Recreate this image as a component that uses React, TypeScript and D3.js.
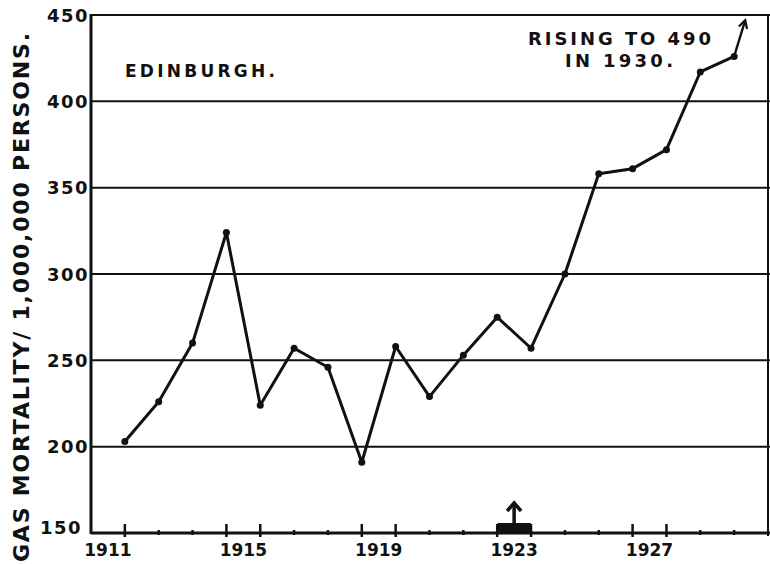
import React from "react";
import * as d3 from "d3";

const years = [1911, 1912, 1913, 1914, 1915, 1916, 1917, 1918, 1919, 1920, 1921, 1922, 1923, 1924, 1925, 1926, 1927, 1928, 1929];
const mortality = [203, 226, 260, 324, 224, 257, 246, 191, 258, 229, 253, 275, 257, 300, 358, 361, 372, 417, 426];
const yTicks = [150, 200, 250, 300, 350, 400, 450];
const xLabelYears = [1911, 1915, 1919, 1923, 1927];
const longTickYears = [1912, 1915, 1916, 1919, 1920, 1923, 1924, 1927, 1928];
const tickYears = d3.range(1912, 1931);
const extrapolated = { year: 1930, value: 490 };
const markedYear = 1923;

const W = 770;
const H = 564;
const left = 91;
const right = 768;
const top = 15;
const bottom = 533;
const FONT = "'DejaVu Sans', sans-serif";

export default function App() {
  const x = d3.scaleLinear().domain([1911, 1931]).range([left, right]);
  const y = d3.scaleLinear().domain([150, 450]).range([bottom, top]);
  const px = (yr: number) => x(yr + 1);

  const pts: [number, number][] = years.map((yr, i) => [px(yr), y(mortality[i])]);
  const line = d3.line<[number, number]>()(pts) || "";

  const last = pts[pts.length - 1];
  const target: [number, number] = [px(extrapolated.year), y(extrapolated.value)];
  const tipY = y(447);
  const t = (last[1] - tipY) / (last[1] - target[1]);
  const tip: [number, number] = [last[0] + (target[0] - last[0]) * t, tipY];
  const ang = Math.atan2(tip[1] - last[1], tip[0] - last[0]);
  const ah = 9;
  const a1: [number, number] = [tip[0] - ah * Math.cos(ang - 0.5), tip[1] - ah * Math.sin(ang - 0.5)];
  const a2: [number, number] = [tip[0] - ah * Math.cos(ang + 0.5), tip[1] - ah * Math.sin(ang + 0.5)];

  const mx0 = x(markedYear);
  const mx1 = x(markedYear + 1);
  const mcx = (mx0 + mx1) / 2;

  return (
    <svg width={W} height={H} style={{ position: "absolute", left: 0, top: 0, background: "#fff" }}>
      {yTicks.map((v) => (
        <line key={v} x1={left} x2={right + 2} y1={y(v)} y2={y(v)} stroke="#111" strokeWidth={v === 150 ? 3 : 2} />
      ))}
      <line x1={left} x2={left} y1={top - 1} y2={bottom + 1} stroke="#111" strokeWidth={3} />
      <line x1={right} x2={right} y1={top} y2={bottom + 3} stroke="#111" strokeWidth={2} />

      {yTicks.map((v) => (
        <text
          key={v}
          x={v === 150 ? 82 : 89}
          y={y(v) + (v === 150 ? -6 : 0)}
          textAnchor="end"
          dominantBaseline="central"
          fontFamily={FONT}
          fontWeight="bold"
          fontSize={18}
          letterSpacing={1.5}
          fill="#111"
        >
          {v}
        </text>
      ))}

      {tickYears.map((yr) => {
        const long = longTickYears.includes(yr);
        return (
          <line
            key={yr}
            x1={x(yr)}
            x2={x(yr)}
            y1={bottom - (long ? 9 : 3)}
            y2={bottom + (long ? 4 : 2)}
            stroke="#111"
            strokeWidth={2.5}
          />
        );
      })}

      {xLabelYears.map((yr) => (
        <text
          key={yr}
          x={(x(yr) + x(yr + 1)) / 2}
          y={556}
          textAnchor="middle"
          fontFamily={FONT}
          fontWeight="bold"
          fontSize={17}
          fill="#111"
        >
          {yr}
        </text>
      ))}

      <rect x={mx0} y={bottom - 10} width={mx1 - mx0} height={11} fill="#111" rx={1} />
      <line x1={mcx} x2={mcx} y1={bottom - 10} y2={bottom - 29} stroke="#111" strokeWidth={3.5} />
      <polyline
        points={`${mcx - 7},${bottom - 22} ${mcx},${bottom - 30} ${mcx + 7},${bottom - 22}`}
        fill="none"
        stroke="#111"
        strokeWidth={3.5}
      />

      <path d={line} fill="none" stroke="#111" strokeWidth={3} strokeLinejoin="round" />
      {pts.map((p, i) => (
        <circle key={i} cx={p[0]} cy={p[1]} r={3.5} fill="#111" />
      ))}
      <line x1={last[0]} y1={last[1]} x2={tip[0]} y2={tip[1]} stroke="#111" strokeWidth={2.4} />
      <polyline
        points={`${a1[0]},${a1[1]} ${tip[0]},${tip[1]} ${a2[0]},${a2[1]}`}
        fill="none"
        stroke="#111"
        strokeWidth={2.2}
      />

      <text x={125} y={77} textLength={150} lengthAdjust="spacing" fontFamily={FONT} fontWeight="bold" fontSize={17} fill="#111">
        EDINBURGH.
      </text>
      <text x={528} y={45} textLength={183} lengthAdjust="spacing" fontFamily={FONT} fontWeight="bold" fontSize={18} fill="#111">
        RISING TO 490
      </text>
      <text x={565} y={67} textLength={108} lengthAdjust="spacing" fontFamily={FONT} fontWeight="bold" fontSize={18} fill="#111">
        IN 1930.
      </text>

      <text
        transform={`translate(29,${(562 + 33) / 2}) rotate(-90)`}
        textAnchor="middle"
        textLength={529}
        lengthAdjust="spacing"
        fontFamily={FONT}
        fontWeight="bold"
        fontSize={22}
        fill="#111"
      >
        GAS MORTALITY/ 1,000,000 PERSONS.
      </text>
    </svg>
  );
}
